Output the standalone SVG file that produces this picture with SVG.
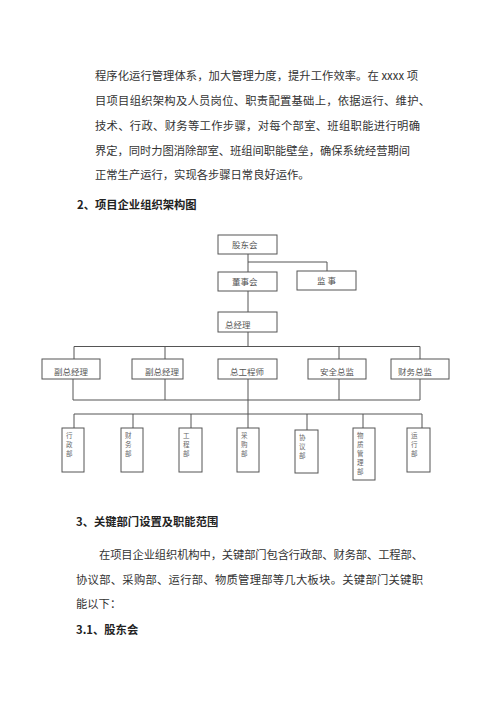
<svg xmlns="http://www.w3.org/2000/svg" width="500" height="707" viewBox="0 0 500 707">
<style>
.t{font-family:"Noto Sans CJK SC","Noto Sans",sans-serif;font-size:11.3px;fill:#333}
.h{font-family:"Noto Sans CJK SC","Noto Sans",sans-serif;font-size:11.3px;font-weight:bold;fill:#222}
.b{fill:#fff;stroke:#555;stroke-width:1}
.l{fill:none;stroke:#555;stroke-width:1}
.n{font-family:"Noto Sans CJK SC",sans-serif;font-size:8.5px;fill:#555}
.v{font-family:"Noto Sans CJK SC",sans-serif;font-size:6.5px;fill:#666}
</style>
<rect width="500" height="707" fill="#fff"/>
<g id="para1">
<text class="t" x="95" y="80" textLength="323" lengthAdjust="spacing">程序化运行管理体系，加大管理力度，提升工作效率。在 xxxx 项</text>
<text class="t" x="95" y="105" textLength="335" lengthAdjust="spacing">目项目组织架构及人员岗位、职责配置基础上，依据运行、维护、</text>
<text class="t" x="95" y="130" textLength="325" lengthAdjust="spacing">技术、行政、财务等工作步骤，对每个部室、班组职能进行明确</text>
<text class="t" x="95" y="155" textLength="315" lengthAdjust="spacing">界定，同时力图消除部室、班组间职能壁垒，确保系统经营期间</text>
<text class="t" x="95" y="179">正常生产运行，实现各步骤日常良好运作。</text>
</g>
<text class="h" x="77" y="209">2、项目企业组织架构图</text>
<g id="connectors">
<path class="l" d="M248 254V272M248 262H327V271M248 291V312M248 332V346.5M74 346.5H420M74 346.5V359M165 346.5V359M339 346.5V359M420 346.5V359"/>
<path class="l" d="M73 379V400M165 379V400M339 379V400M420 379V400M73 400H420M248 379V428M74 414H422M74 414V428M133 414V428M191 414V428M307 414V430M363 414V428M422 414V428"/>
</g>
<g id="gudonghui"><rect class="b" x="218" y="235" width="59" height="19"/><text class="n" x="232" y="248">股东会</text></g>
<g id="dongshihui"><rect class="b" x="218" y="272" width="59" height="19"/><text class="n" x="232" y="285">董事会</text></g>
<g id="jianshi"><rect class="b" x="297" y="271" width="59" height="19"/><text class="n" x="317" y="284" letter-spacing="2">监事</text></g>
<g id="zongjingli"><rect class="b" x="218" y="312" width="59" height="20"/><text class="n" x="225" y="328">总经理</text></g>
<g id="fzjl1"><rect class="b" x="42" y="359" width="58" height="20"/><text class="n" x="54" y="375">副总经理</text></g>
<g id="fzjl2"><rect class="b" x="132" y="359" width="51" height="20"/><text class="n" x="145" y="375">副总经理</text></g>
<g id="zgcs"><rect class="b" x="218" y="359" width="59" height="20"/><text class="n" x="230" y="375">总工程师</text></g>
<g id="aqzj"><rect class="b" x="308" y="359" width="58" height="20"/><text class="n" x="320" y="375">安全总监</text></g>
<g id="cwzj"><rect class="b" x="391" y="359" width="58" height="20"/><text class="n" x="398" y="375">财务总监</text></g>
<g id="xingzheng"><rect class="b" x="62" y="428" width="22" height="44"/><text class="v" x="66" y="438"><tspan>行</tspan><tspan x="66" dy="9">政</tspan><tspan x="66" dy="9">部</tspan></text></g>
<g id="caiwu"><rect class="b" x="121" y="428" width="22" height="44"/><text class="v" x="125" y="438"><tspan>财</tspan><tspan x="125" dy="9">务</tspan><tspan x="125" dy="9">部</tspan></text></g>
<g id="gongcheng"><rect class="b" x="179" y="428" width="23" height="44"/><text class="v" x="183" y="438"><tspan>工</tspan><tspan x="183" dy="9">程</tspan><tspan x="183" dy="9">部</tspan></text></g>
<g id="caigou"><rect class="b" x="237" y="428" width="22" height="44"/><text class="v" x="241" y="438"><tspan>采</tspan><tspan x="241" dy="9">购</tspan><tspan x="241" dy="9">部</tspan></text></g>
<g id="xieyi"><rect class="b" x="295" y="430" width="23" height="43"/><text class="v" x="299" y="440"><tspan>协</tspan><tspan x="299" dy="9">议</tspan><tspan x="299" dy="9">部</tspan></text></g>
<g id="wuzhi"><rect class="b" x="353" y="428" width="22" height="52"/><text class="v" x="357" y="438"><tspan>物</tspan><tspan x="357" dy="9">质</tspan><tspan x="357" dy="9">管</tspan><tspan x="357" dy="9">理</tspan><tspan x="357" dy="9">部</tspan></text></g>
<g id="yunxing"><rect class="b" x="407" y="428" width="23" height="44"/><text class="v" x="411" y="438"><tspan>运</tspan><tspan x="411" dy="9">行</tspan><tspan x="411" dy="9">部</tspan></text></g>
<text class="h" x="76" y="526">3、关键部门设置及职能范围</text>
<g id="para3">
<text class="t" x="99" y="559" textLength="324" lengthAdjust="spacing">在项目企业组织机构中，关键部门包含行政部、财务部、工程部、</text>
<text class="t" x="76" y="584" textLength="347" lengthAdjust="spacing">协议部、采购部、运行部、物质管理部等几大板块。关键部门关键职</text>
<text class="t" x="76" y="608">能以下：</text>
</g>
<text class="h" x="76" y="634">3.1、股东会</text>
</svg>
